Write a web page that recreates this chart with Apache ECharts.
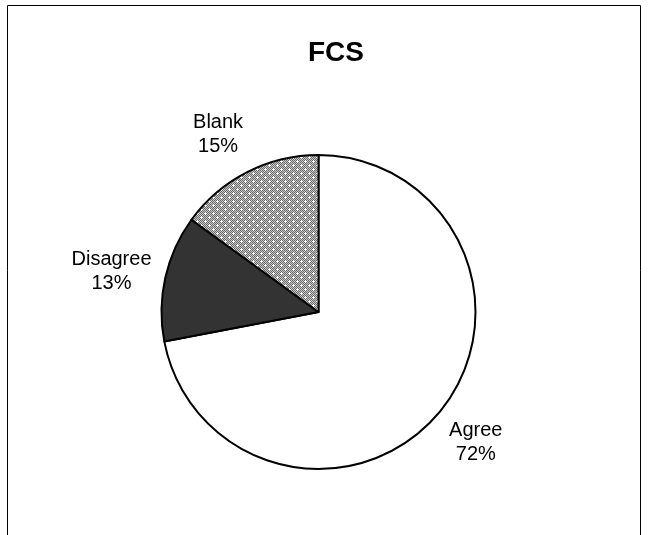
<!DOCTYPE html>
<html><head><meta charset="utf-8">
<script src="https://cdn.jsdelivr.net/npm/echarts@6/dist/echarts.min.js"></script>
<style>html,body{margin:0;padding:0;background:#fff}#c{width:648px;height:535px}</style>
</head><body><div id="c"></div>
<script>
var title = 'FCS';
var categories = ['Agree', 'Disagree', 'Blank'];
var values = [72, 13, 15];
var labelsPct = ['72%', '13%', '15%'];

function makePattern() {
  var c = document.createElement('canvas');
  c.width = 8; c.height = 8;
  var ctx = c.getContext('2d');
  for (var y = 0; y < 8; y++) for (var x = 0; x < 8; x++) {
    ctx.fillStyle = ((x + y) % 2 === 0) ? '#6a6a6a' : '#c8c8c8';
    ctx.fillRect(x, y, 1, 1);
  }
  ctx.fillStyle = '#ffffff';
  [[1,1],[5,5]].forEach(function(p){
    ctx.fillRect(p[0], p[1], 1, 1);
    ctx.fillRect(p[0]-1, p[1], 1, 1);
    ctx.fillRect(p[0]+1, p[1], 1, 1);
    ctx.fillRect(p[0], p[1]-1, 1, 1);
    ctx.fillRect(p[0], p[1]+1, 1, 1);
  });
  return c;
}
var fills = ['#ffffff', '#333333', {image: makePattern(), repeat: 'repeat'}];
var labelStyles = [
  {offset: [-3, -2]},
  {offset: [-4, 5]},
  {offset: [-6, 8]}
];

var pieData = categories.map(function(n, i){
  return {name: n, value: values[i], itemStyle: {color: fills[i]}};
});
var labelData = categories.map(function(n, i){
  return {name: n, value: values[i], label: labelStyles[i]};
});

var chart = echarts.init(document.getElementById('c'));
chart.setOption({
  animation: false,
  backgroundColor: '#ffffff',
  title: {
    text: title, left: 331, top: 34, textAlign: 'center',
    textStyle: {fontFamily: 'Liberation Sans, Arial', fontWeight: 'bold', fontSize: 28, color: '#000'}
  },
  graphic: [{
    type: 'rect', shape: {x: 7.5, y: 5.5, width: 633, height: 600},
    style: {fill: 'none', stroke: '#000', lineWidth: 1}, silent: true
  }],
  series: [{
    type: 'pie', center: [318.5, 312], radius: [0, 157], startAngle: 90, clockwise: true,
    data: pieData,
    itemStyle: {borderColor: '#000', borderWidth: 2},
    label: {show: false}, labelLine: {show: false}, silent: true
  }, {
    type: 'pie', center: [318.5, 312], radius: [190, 220], startAngle: 90, clockwise: true,
    data: labelData,
    itemStyle: {color: 'rgba(0,0,0,0)', borderWidth: 0},
    label: {
      show: true, position: 'inside', rotate: 0,
      formatter: function(p){ return p.name + '\n' + labelsPct[p.dataIndex]; },
      fontFamily: 'Liberation Sans, Arial', fontSize: 20, lineHeight: 24, color: '#000', align: 'center'
    },
    labelLine: {show: false}, silent: true
  }]
});
</script></body></html>
